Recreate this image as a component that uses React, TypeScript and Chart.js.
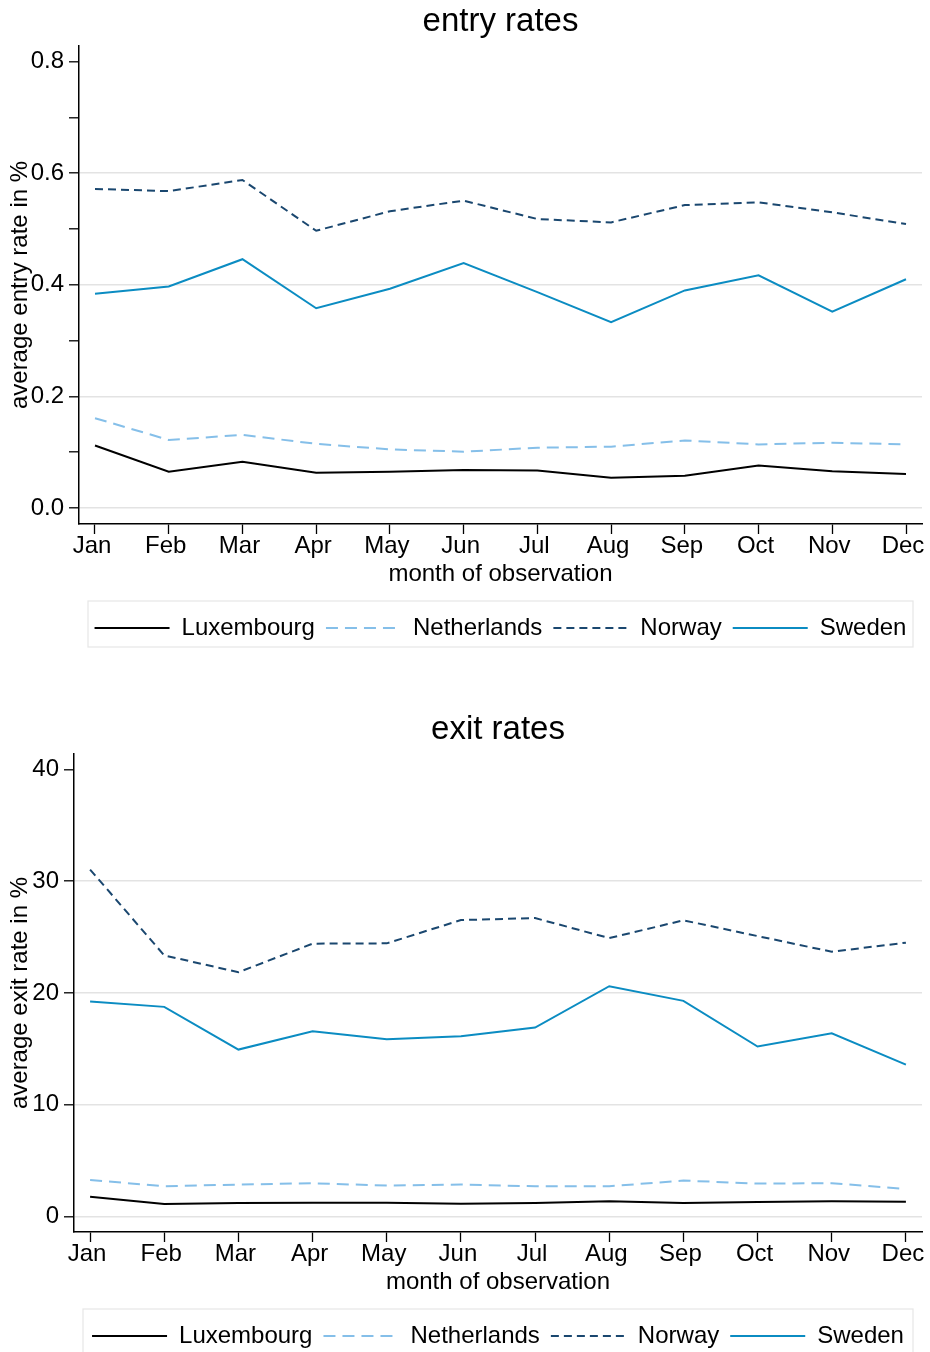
import React, { useEffect, useRef } from "react";
import { Chart, registerables } from "chart.js";

Chart.register(...registerables);

const months = ["Jan", "Feb", "Mar", "Apr", "May", "Jun", "Jul", "Aug", "Sep", "Oct", "Nov", "Dec"];
const countries = ["Luxembourg", "Netherlands", "Norway", "Sweden"];

// entry rates (%)
const entryLuxembourg = [0.112, 0.065, 0.083, 0.063, 0.065, 0.068, 0.067, 0.054, 0.058, 0.076, 0.066, 0.061];
const entryNetherlands = [0.161, 0.122, 0.131, 0.115, 0.105, 0.101, 0.108, 0.110, 0.121, 0.114, 0.117, 0.114];
const entryNorway = [0.572, 0.568, 0.588, 0.497, 0.532, 0.551, 0.518, 0.512, 0.543, 0.548, 0.530, 0.509];
const entrySweden = [0.384, 0.397, 0.446, 0.358, 0.393, 0.439, 0.387, 0.333, 0.390, 0.417, 0.352, 0.410];

// exit rates (%)
const exitLuxembourg = [1.79, 1.14, 1.23, 1.25, 1.25, 1.16, 1.23, 1.38, 1.23, 1.32, 1.38, 1.34];
const exitNetherlands = [3.29, 2.72, 2.87, 2.99, 2.78, 2.87, 2.72, 2.72, 3.23, 2.96, 2.99, 2.48];
const exitNorway = [31.04, 23.36, 21.86, 24.41, 24.44, 26.52, 26.70, 24.91, 26.50, 25.09, 23.69, 24.50];
const exitSweden = [19.24, 18.76, 14.94, 16.58, 15.86, 16.13, 16.91, 20.61, 19.30, 15.21, 16.40, 13.59];

// axis ticks
const entryTicks = [0, 0.1, 0.2, 0.3, 0.4, 0.5, 0.6, 0.7, 0.8];
const entryTickLabels = ["0.0", "", "0.2", "", "0.4", "", "0.6", "", "0.8"];
const entryGridValues = [0, 0.2, 0.4, 0.6];
const exitTicks = [0, 10, 20, 30, 40];
const exitTickLabels = ["0", "10", "20", "30", "40"];
const exitGridValues = [0, 10, 20, 30];

const FONT = "'Liberation Sans', Arial, Helvetica, sans-serif";

const seriesStyles = [
  { color: "#000000", dash: [] as number[] },
  { color: "#85bfe9", dash: [12, 7] },
  { color: "#1a476f", dash: [8, 5] },
  { color: "#0b8cc2", dash: [] as number[] },
];

const legendBoxPlugin = {
  id: "legendBox",
  afterDraw(chart: any) {
    const l = chart.legend;
    const area = chart.chartArea;
    if (!l) return;
    const ctx = chart.ctx;
    ctx.save();
    ctx.strokeStyle = "#e6e6e6";
    ctx.lineWidth = 1.2;
    ctx.strokeRect(area.left + 9, l.top - 4, area.right - area.left - 18, 46);
    ctx.restore();
  },
};

function makeConfig(opts: {
  title: string;
  yTitle: string;
  series: number[][];
  ticks: number[];
  tickLabels: string[];
  gridValues: number[];
  yMin: number;
  yMax: number;
  yWidth: number;
}): any {
  const datasets = opts.series.map((vals, i) => ({
    label: countries[i],
    data: vals.map((v, k) => ({ x: k + 1, y: v })),
    borderColor: seriesStyles[i].color,
    backgroundColor: seriesStyles[i].color,
    borderDash: seriesStyles[i].dash,
    borderWidth: 2,
    pointRadius: 0,
    tension: 0,
    fill: false,
  }));
  return {
    type: "line",
    data: { datasets },
    plugins: [legendBoxPlugin],
    options: {
      animation: false,
      responsive: false,
      devicePixelRatio: 1,
      layout: { padding: { left: 0, right: 8, top: 0, bottom: 58 } },
      plugins: {
        tooltip: { enabled: false },
        title: {
          display: true,
          text: opts.title,
          fullSize: false,
          color: "#000",
          font: { family: FONT, size: 33, weight: "normal" },
          padding: { top: 2, bottom: 4.4 },
        },
        legend: {
          display: true,
          position: "bottom",
          fullSize: false,
          labels: {
            usePointStyle: true,
            pointStyle: "line",
            pointStyleWidth: 75,
            padding: 11,
            color: "#000",
            font: { family: FONT, size: 24 },
            generateLabels: (chart: any) => {
              const items = Chart.defaults.plugins.legend.labels.generateLabels(chart);
              items.forEach((it: any) => {
                const ds = chart.data.datasets[it.datasetIndex];
                it.lineDash = ds.borderDash;
                it.lineWidth = ds.borderWidth;
                it.strokeStyle = ds.borderColor;
              });
              return items;
            },
          },
        },
      },
      scales: {
        x: {
          type: "linear",
          min: 0.783,
          max: 12.217,
          afterBuildTicks: (s: any) => {
            s.ticks = months.map((_, i) => ({ value: i + 1 }));
          },
          afterFit: (s: any) => {
            s.height = 81;
          },
          ticks: {
            autoSkip: false,
            maxRotation: 0,
            padding: -2,
            labelOffset: -3,
            color: "#000",
            font: { family: FONT, size: 24 },
            callback: (v: any) => months[Math.round(v) - 1],
          },
          grid: {
            drawOnChartArea: false,
            drawTicks: true,
            tickLength: 10,
            tickColor: "#000",
            tickWidth: 1.3,
          },
          border: { display: true, color: "#000", width: 1.5 },
          title: {
            display: true,
            text: "month of observation",
            color: "#000",
            font: { family: FONT, size: 24 },
            padding: { top: 0, bottom: 16 },
          },
        },
        y: {
          type: "linear",
          min: opts.yMin,
          max: opts.yMax,
          afterBuildTicks: (s: any) => {
            s.ticks = opts.ticks.map((v) => ({ value: v }));
          },
          afterFit: (s: any) => {
            s.width = opts.yWidth;
          },
          ticks: {
            autoSkip: false,
            padding: 5,
            color: "#000",
            font: { family: FONT, size: 24 },
            callback: (_v: any, i: number) => opts.tickLabels[i],
          },
          grid: {
            drawTicks: true,
            tickLength: 10,
            tickColor: "#000",
            tickWidth: 1.3,
            lineWidth: 1.6,
            color: (ctx: any) => {
              const v = ctx.tick ? ctx.tick.value : NaN;
              return opts.gridValues.some((g) => Math.abs(g - v) < 1e-9) ? "#e3e3e3" : "rgba(0,0,0,0)";
            },
          },
          border: { display: true, color: "#000", width: 1.5 },
          title: {
            display: true,
            text: opts.yTitle,
            color: "#000",
            font: { family: FONT, size: 24 },
            padding: { top: 6, bottom: 0 },
          },
        },
      },
    },
  };
}

function LineChart({ config, top }: { config: any; top: number }) {
  const ref = useRef<HTMLCanvasElement | null>(null);
  useEffect(() => {
    if (!ref.current) return;
    const chart = new Chart(ref.current, config);
    return () => chart.destroy();
  }, [config]);
  return (
    <div style={{ position: "absolute", left: 0, top, width: 930, height: 708 }}>
      <canvas ref={ref} width={930} height={708} style={{ width: 930, height: 708, display: "block" }} />
    </div>
  );
}

const entryConfig = makeConfig({
  title: "entry rates",
  yTitle: "average entry rate in %",
  series: [entryLuxembourg, entryNetherlands, entryNorway, entrySweden],
  ticks: entryTicks,
  tickLabels: entryTickLabels,
  gridValues: entryGridValues,
  yMin: -0.0287,
  yMax: 0.8282,
  yWidth: 79,
});

const exitConfig = makeConfig({
  title: "exit rates",
  yTitle: "average exit rate in %",
  series: [exitLuxembourg, exitNetherlands, exitNorway, exitSweden],
  ticks: exitTicks,
  tickLabels: exitTickLabels,
  gridValues: exitGridValues,
  yMin: -1.37,
  yMax: 41.37,
  yWidth: 74,
});

export default function App() {
  return (
    <div
      style={{
        position: "absolute",
        left: 0,
        top: 0,
        width: 930,
        height: 1352,
        overflow: "hidden",
        background: "#fff",
      }}
    >
      <LineChart config={entryConfig} top={0} />
      <LineChart config={exitConfig} top={708} />
    </div>
  );
}
